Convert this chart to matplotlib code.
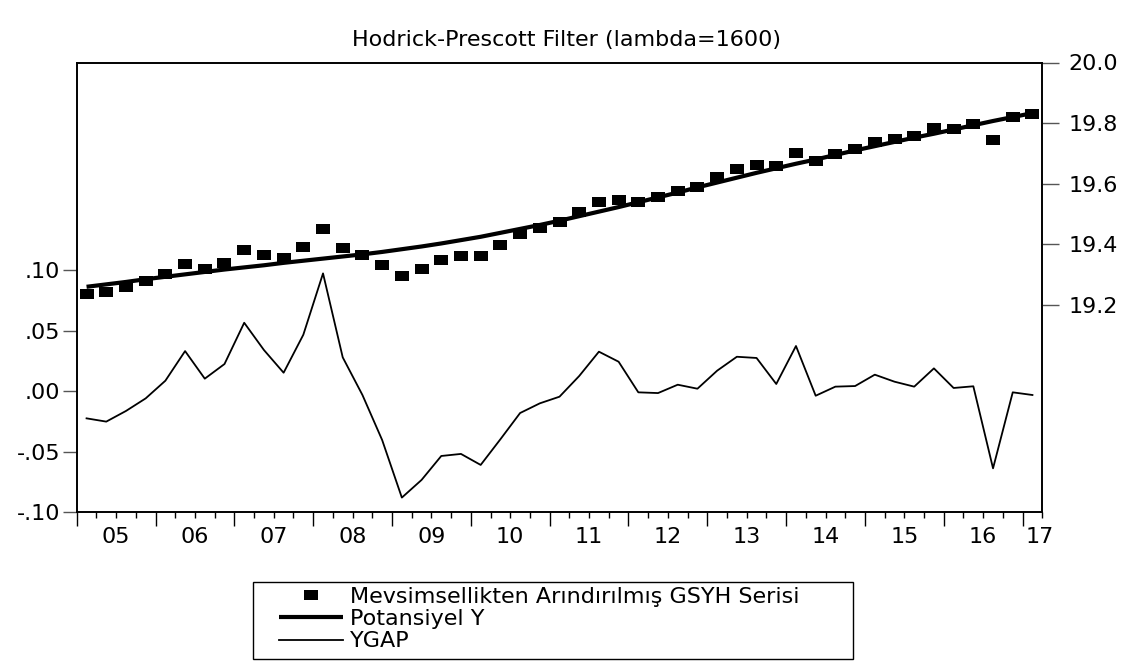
import matplotlib
matplotlib.use("Agg")
import matplotlib.pyplot as plt
import numpy as np
from matplotlib.path import Path
from matplotlib.patches import Rectangle

plt.rcParams['font.family'] = ['DejaVu Sans']

# ---- data (quarterly, 2005Q1 .. 2017Q1) ----
start_year = 2005
n_quarters = 49
gdp_sa = [19.237, 19.244, 19.260, 19.279, 19.302, 19.334, 19.320, 19.340,
          19.380, 19.365, 19.354, 19.392, 19.450, 19.388, 19.364, 19.331,
          19.296, 19.319, 19.349, 19.362, 19.363, 19.398, 19.434, 19.453,
          19.473, 19.506, 19.541, 19.547, 19.539, 19.555, 19.577, 19.590,
          19.621, 19.649, 19.662, 19.658, 19.703, 19.676, 19.698, 19.715,
          19.737, 19.746, 19.757, 19.783, 19.782, 19.797, 19.745, 19.820,
          19.831]
trend = [19.260, 19.268, 19.276, 19.285, 19.293, 19.301, 19.309, 19.317,
         19.324, 19.331, 19.339, 19.346, 19.353, 19.360, 19.367, 19.375,
         19.384, 19.393, 19.403, 19.414, 19.425, 19.438, 19.451, 19.464,
         19.478, 19.493, 19.508, 19.523, 19.539, 19.555, 19.571, 19.588,
         19.604, 19.620, 19.636, 19.651, 19.666, 19.680, 19.695, 19.710,
         19.724, 19.738, 19.752, 19.765, 19.779, 19.793, 19.807, 19.820,
         19.833]
ygap = [-0.0226, -0.0253, -0.0165, -0.0061, 0.0085, 0.0330, 0.0102, 0.0223,
        0.0564, 0.0339, 0.0151, 0.0465, 0.0972, 0.0278, -0.0033, -0.0405,
        -0.0881, -0.0735, -0.0537, -0.0520, -0.0611, -0.0399, -0.0182, -0.0102,
        -0.0047, 0.0124, 0.0325, 0.0242, -0.0011, -0.0017, 0.0052, 0.0019,
        0.0168, 0.0283, 0.0273, 0.0058, 0.0372, -0.0039, 0.0036, 0.0041,
        0.0135, 0.0077, 0.0036, 0.0187, 0.0025, 0.0039, -0.0639, -0.0011,
        -0.0033]
year_labels = ['05', '06', '07', '08', '09', '10', '11', '12', '13', '14', '15', '16', '17']
left_ticks = [-0.10, -0.05, 0.00, 0.05, 0.10]
left_ticklabels = ['-.10', '-.05', '.00', '.05', '.10']
right_ticks = [19.2, 19.4, 19.6, 19.8, 20.0]
right_ticklabels = ['19.2', '19.4', '19.6', '19.8', '20.0']
title = 'Hodrick-Prescott Filter (lambda=1600)'
legend_labels = ['Mevsimsellikten Arındırılmış GSYH Serisi', 'Potansiyel Y', 'YGAP']

# x positions: centre of each quarter
x = start_year + (np.arange(n_quarters) + 0.5) / 4.0
x_end = start_year + n_quarters / 4.0

W, H = 1132, 663
fig = plt.figure(figsize=(W / 100, H / 100), dpi=100)
L, R, T, B = 76.7, 1042.3, 62.5, 512.0
ax = fig.add_axes([L / W, 1 - B / H, (R - L) / W, (B - T) / H])
ax2 = ax.twinx()

FS = 16

# left axis: YGAP
l_gap, = ax.plot(x, ygap, color='black', lw=1.3)
ax.set_ylim(-0.10, 0.2715)
ax.set_yticks(left_ticks)
ax.set_yticklabels(left_ticklabels, fontsize=FS)
ax.tick_params(axis='y', direction='out', length=10, width=1, color='#555555', pad=2)

# right axis: series and trend
rect = Path([(-0.7, -0.5), (0.7, -0.5), (0.7, 0.5), (-0.7, 0.5), (-0.7, -0.5)],
            [Path.MOVETO, Path.LINETO, Path.LINETO, Path.LINETO, Path.CLOSEPOLY])
l_trend, = ax2.plot(x, trend, color='black', lw=3.0, solid_capstyle='butt')
l_gdp, = ax2.plot(x, gdp_sa, linestyle='none', marker=rect, markersize=9.5,
                  color='black', markeredgewidth=0)
ax2.set_ylim(18.517, 20.0)
ax2.set_yticks(right_ticks)
ax2.set_yticklabels(right_ticklabels, fontsize=FS)
ax2.tick_params(axis='y', direction='out', length=12, width=1, color='#555555', pad=7)

# x axis
ax.set_xlim(start_year, x_end)
years = np.arange(start_year, int(np.floor(x_end)) + 1)
ax.set_xticks(years)
ax.set_xticklabels([''] * len(years))
qb = start_year + np.arange(0, n_quarters + 1) / 4.0
ax.set_xticks([q for q in qb if abs(q - round(q)) > 1e-9], minor=True)
ax.tick_params(axis='x', which='major', direction='out', length=10, width=1)
ax.tick_params(axis='x', which='minor', direction='out', length=4, width=1)
for i, lab in enumerate(year_labels):
    yr = start_year + i
    xc = (yr + min(yr + 1, x_end)) / 2.0
    if yr + 1 > x_end:
        xc = x_end - 0.03
    ax.text(xc, -0.055, lab, transform=ax.get_xaxis_transform(),
            ha='center', va='center', fontsize=FS)

for a in (ax, ax2):
    for s in a.spines.values():
        s.set_linewidth(1.2)

fig.text(567 / W, 1 - 40 / H, title, ha='center', va='center', fontsize=FS)

# legend box
fig.patches.append(Rectangle((253 / W, 1 - 659 / H), 600 / W, 77 / H,
                             transform=fig.transFigure, facecolor='white',
                             edgecolor='black', linewidth=1.0, zorder=1))
leg = fig.legend([l_gdp, l_trend, l_gap], legend_labels,
                 loc='upper left', bbox_to_anchor=(279 / W, 1 - 587 / H),
                 fontsize=FS, frameon=False, borderpad=0, labelspacing=0.1,
                 handlelength=2.9, handletextpad=0.3, borderaxespad=0)
leg.set_zorder(2)

fig.savefig('out.png', dpi=100)
